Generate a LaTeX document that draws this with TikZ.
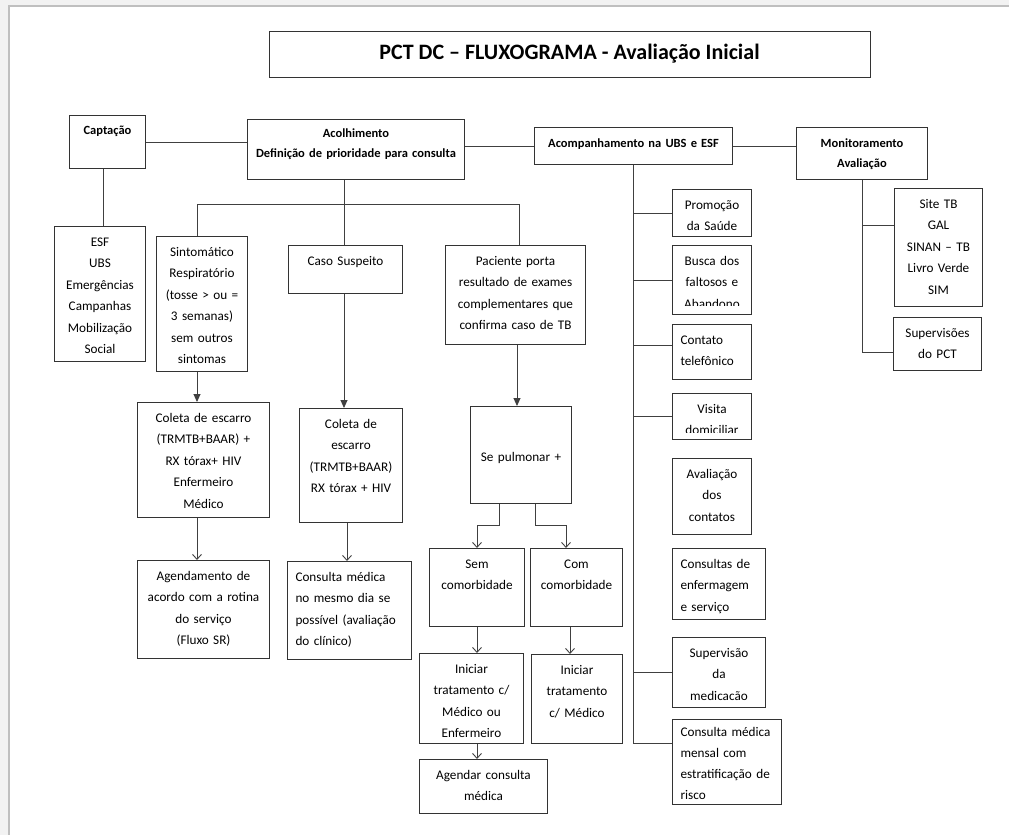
\documentclass[tikz,border=0pt]{standalone}
\usepackage{fontspec}
\setmainfont{Carlito}
\usetikzlibrary{arrows.meta}

\begin{document}
\begin{tikzpicture}[x=1pt,y=-1pt]
\tikzstyle{box}=[draw=black!80, line width=1pt, anchor=north west, inner xsep=2pt, inner ysep=0pt, align=center, text height=19.5pt, font=\fontsize{13.2}{21.5}\selectfont]
\tikzstyle{leftbox}=[box, align=left, inner xsep=8pt]
\tikzstyle{headbox}=[box, text height=19pt, font=\bfseries\fontsize{12.5}{20}\selectfont]
\tikzstyle{line}=[draw=black!75, line width=0.9pt]
\tikzstyle{fillarrow}=[line, -{Triangle[length=8pt,width=7pt]}]
\tikzstyle{openarrow}=[line, -{Straight Barb[length=5pt,width=9pt]}]

\useasboundingbox (0,0) rectangle (1009,835);
\fill[black!5] (0,0) rectangle (1009,5);
\fill[black!5] (0,0) rectangle (8,835);
\draw[black!25, line width=2pt] (9,835) -- (9,6) -- (1009,6);

\node[draw=black!80, line width=1pt, minimum width=601pt, minimum height=46pt, font=\bfseries\fontsize{22}{26}\selectfont] (title) at (569.5,54) {PCT DC – FLUXOGRAMA - Avaliação Inicial};

\node[headbox, text width=72pt, text depth=34pt] (capt) at (69,115) {Captação};
\node[headbox, text width=213pt, text height=18pt, text depth=42pt] (acol) at (247,119) {Acolhimento\\Definição de prioridade para consulta};
\node[headbox, text width=194pt, text height=20pt, text depth=17pt] (acomp) at (534,127) {Acompanhamento na UBS e ESF};
\node[headbox, text width=127pt, text height=20pt, text depth=32pt] (mon) at (796,127) {Monitoramento\\Avaliação};

\node[box, text width=87pt, text depth=115.5pt] (esf) at (54,226) {ESF\\UBS\\Emergências\\Campanhas\\Mobilização\\Social};
\node[box, text width=87pt, text depth=115.5pt] (sint) at (156,236) {Sintomático\\Respiratório\\(tosse > ou =\\3 semanas)\\sem outros\\sintomas};
\node[box, text width=110pt, text depth=28.5pt] (caso) at (288,245) {Caso Suspeito};
\node[box, text width=136pt, text depth=79.5pt] (pac) at (445,245) {Paciente porta\\resultado de exames\\complementares que\\confirma caso de TB};
\node[box, text width=128pt, text depth=95.5pt] (col1) at (137,402) {Coleta de escarro\\(TRMTB+BAAR) +\\RX tórax+ HIV\\Enfermeiro\\Médico};
\node[box, text width=99pt, text depth=94.5pt] (col2) at (299,408) {Coleta de\\escarro\\(TRMTB+BAAR)\\RX tórax + HIV};
\node[box, text width=128pt, text depth=78.5pt] (agend) at (137,560) {Agendamento de\\acordo com a rotina\\do serviço\\(Fluxo SR)};
\node[leftbox, text width=108pt, text depth=78.5pt] (consm) at (287,561) {Consulta médica\\no mesmo dia se\\possível (avaliação\\do clínico)};
\node[box, text width=97pt, text height=55pt, text depth=42pt] (sepul) at (470,406) {Se pulmonar +};
\node[box, text width=91pt, text depth=58.5pt] (sem) at (429,548) {Sem\\comorbidade};
\node[box, text width=88pt, text depth=58.5pt] (com) at (530,548) {Com\\comorbidade};
\node[box, text width=100pt, text depth=70.5pt] (ini1) at (419,653) {Iniciar\\tratamento c/\\Médico ou\\Enfermeiro};
\node[box, text width=87pt, text depth=69.5pt] (ini2) at (531,654) {Iniciar\\tratamento\\c/ Médico};
\node[box, text width=124pt, text depth=34.5pt] (agcons) at (419,759) {Agendar consulta\\médica};

\node[box, text width=75pt, text depth=27.5pt] (promo) at (672,189) {Promoção\\da Saúde};
\node[box, text width=75pt, text depth=49.5pt] (busca) at (672,245) {Busca dos\\faltosos e\\Abandono};
\node[leftbox, text width=63pt, text depth=35.5pt] (contato) at (672,324) {Contato\\telefônico};
\node[box, text width=75pt, text depth=26.5pt] (visita) at (672,393) {Visita\\domiciliar};
\node[box, text width=75pt, text depth=56.5pt] (aval) at (672,458) {Avaliação\\dos\\contatos};
\node[leftbox, text width=77pt, text depth=51.5pt] (consenf) at (672,548) {Consultas de\\enfermagem\\e serviço};
\node[box, text width=89pt, text depth=50.5pt] (superv) at (672,637) {Supervisão\\da\\medicacão};
\node[leftbox, text width=93pt, text height=17pt, text depth=68pt, font=\fontsize{13.2}{21}\selectfont] (mensal) at (672,719) {Consulta médica\\mensal com\\estratificação de\\risco};

\node[box, text width=84pt, text depth=98.5pt] (site) at (894,188) {Site TB\\GAL\\SINAN – TB\\Livro Verde\\SIM};
\node[box, text width=84pt, text depth=33.5pt] (supvs) at (893,317) {Supervisões\\do PCT};

\coordinate (acleft) at (197,204);
\coordinate (acmid) at (344,204);
\coordinate (acright) at (519,204);
\coordinate (pacdown) at (517,0);
\coordinate (captdown) at (103,0);
\coordinate (col2down) at (347,0);
\coordinate (spleft) at (499,525);
\coordinate (spright) at (535,525);
\coordinate (comin) at (566,0);
\coordinate (comdown) at (570,0);

\draw[line] (capt.east) -- (capt.east -| acol.west);
\draw[line] (acol.east |- acomp.west) -- (acomp.west);
\draw[line] (acomp.east) -- (acomp.east -| mon.west);
\draw[line] (captdown |- capt.south) -- (captdown |- esf.north);
\draw[line] (acmid |- acol.south) -- (acmid |- caso.north);
\draw[line] (acleft |- sint.north) -- (acleft) -- (acright) -- (acright |- pac.north);
\draw[fillarrow] (acleft |- sint.south) -- (acleft |- col1.north);
\draw[fillarrow] (acmid |- caso.south) -- (acmid |- col2.north);
\draw[fillarrow] (pacdown |- pac.south) -- (pacdown |- sepul.north);
\draw[openarrow] (acleft |- col1.south) -- (acleft |- agend.north);
\draw[openarrow] (col2down |- col2.south) -- (col2down |- consm.north);
\draw[openarrow] (spleft |- sepul.south) -- (spleft) -| (sem.north);
\draw[openarrow] (spright |- sepul.south) -- (spright) -| (comin |- com.north);
\draw[openarrow] (sem.south) -- (sem.south |- ini1.north);
\draw[openarrow] (comdown |- com.south) -- (comdown |- ini2.north);
\draw[openarrow] (sem.south |- ini1.south) -- (sem.south |- agcons.north);
\foreach \b/\s in {promo/0, busca/0, contato/6.5, visita/0, superv/0, mensal/19}
  \draw[line] (acomp.south) |- ([yshift=\s pt]\b.west);
\draw[line] (mon.south) |- ([yshift=22pt]site.west);
\draw[line] (mon.south) |- ([yshift=-8.5pt]supvs.west);
\fill[white] ([xshift=1pt,yshift=1pt]busca.south west) rectangle ([xshift=-1pt,yshift=9pt]busca.south east);
\fill[white] ([xshift=1pt,yshift=1pt]visita.south west) rectangle ([xshift=-1pt,yshift=7pt]visita.south east);
\end{tikzpicture}
\end{document}
